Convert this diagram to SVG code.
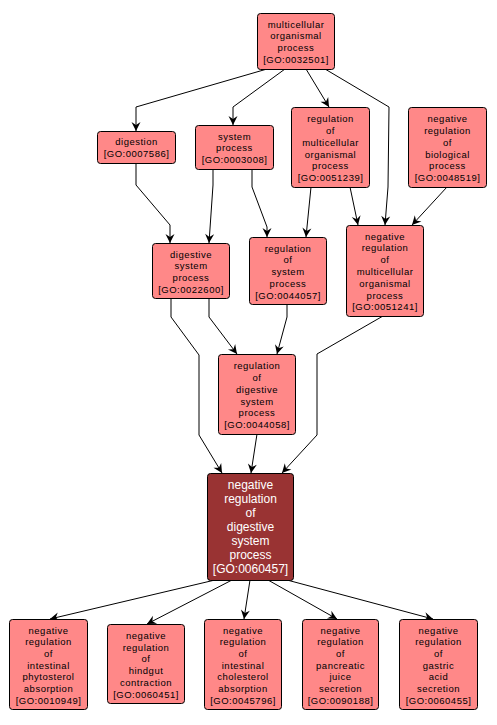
<svg xmlns="http://www.w3.org/2000/svg" width="497" height="725" viewBox="0 0 497 725">
<defs>
<marker id="arr" markerUnits="userSpaceOnUse" markerWidth="12" markerHeight="12" viewBox="-10 -6 12 12" refX="0" refY="0" orient="auto">
<path d="M0,0 L-9,-4.5 L-6,0 L-9,4.5 Z" fill="#000"/>
</marker>
</defs>
<style>
rect.n{fill:#ff8888;stroke:#000;stroke-width:1}
rect.m{fill:#993333;stroke:#000;stroke-width:1}
text{font-family:"Liberation Sans",Arial,sans-serif;text-anchor:middle}
text.s{font-size:9.5px;letter-spacing:0.5px;fill:#000}
text.b{font-size:12px;fill:#fff}
#edges path{fill:none;stroke:#000;stroke-width:1;marker-end:url(#arr)}
</style>
<rect width="497" height="725" fill="#fff"/>
<g id="edges">
<path d="M267,69 L136,107 L136,131"/>
<path d="M285,69 L233,107 L233,125"/>
<path d="M306,69 L329,107"/>
<path d="M325,69 L389,107 L388,187 L385,225"/>
<path d="M447,187 L412,225"/>
<path d="M350,187 L358,225"/>
<path d="M311,187 L306,237"/>
<path d="M136,163 L136,185 L170,225 L170,243"/>
<path d="M213,169 L213,185 L209,243"/>
<path d="M252,169 L252,187 L267,227 L267,237"/>
<path d="M209,298 L209,317 L237,354"/>
<path d="M287,304 L287,317 L277,354"/>
<path d="M171,298 L171,317 L199,355 L199,435 L222,473"/>
<path d="M383,316 L317,354 L317,435 L282,473"/>
<path d="M257,434 L251,473"/>
<path d="M215,580 L50,619"/>
<path d="M232,580 L147,624"/>
<path d="M250,580 L244,619"/>
<path d="M268,580 L337,619"/>
<path d="M287,580 L433,619"/>
</g>
<g id="GO_0032501">
<rect class="n" x="257.5" y="13.5" width="77" height="56" rx="3"/>
<text class="s" x="296" y="27.5"><tspan x="296">multicellular</tspan><tspan x="296" dy="11.9">organismal</tspan><tspan x="296" dy="11.9">process</tspan><tspan x="296" dy="11.9">[GO:0032501]</tspan></text>
</g>
<g id="GO_0007586">
<rect class="n" x="97.5" y="131.5" width="78" height="32" rx="3"/>
<text class="s" x="136.5" y="145.2"><tspan x="136.5">digestion</tspan><tspan x="136.5" dy="11.8">[GO:0007586]</tspan></text>
</g>
<g id="GO_0003008">
<rect class="n" x="195.5" y="125.5" width="78" height="44" rx="3"/>
<text class="s" x="234.5" y="139.5"><tspan x="234.5">system</tspan><tspan x="234.5" dy="11.8">process</tspan><tspan x="234.5" dy="11.8">[GO:0003008]</tspan></text>
</g>
<g id="GO_0051239">
<rect class="n" x="291.5" y="107.5" width="78" height="80" rx="3"/>
<text class="s" x="330.5" y="122.2"><tspan x="330.5">regulation</tspan><tspan x="330.5" dy="11.8">of</tspan><tspan x="330.5" dy="11.8">multicellular</tspan><tspan x="330.5" dy="11.8">organismal</tspan><tspan x="330.5" dy="11.8">process</tspan><tspan x="330.5" dy="11.8">[GO:0051239]</tspan></text>
</g>
<g id="GO_0048519">
<rect class="n" x="408.5" y="107.5" width="78" height="80" rx="3"/>
<text class="s" x="447.5" y="122.2"><tspan x="447.5">negative</tspan><tspan x="447.5" dy="11.8">regulation</tspan><tspan x="447.5" dy="11.8">of</tspan><tspan x="447.5" dy="11.8">biological</tspan><tspan x="447.5" dy="11.8">process</tspan><tspan x="447.5" dy="11.8">[GO:0048519]</tspan></text>
</g>
<g id="GO_0022600">
<rect class="n" x="152.5" y="243.5" width="77" height="55" rx="3"/>
<text class="s" x="191" y="257.5"><tspan x="191">digestive</tspan><tspan x="191" dy="11.8">system</tspan><tspan x="191" dy="11.8">process</tspan><tspan x="191" dy="11.8">[GO:0022600]</tspan></text>
</g>
<g id="GO_0044057">
<rect class="n" x="249.5" y="237.5" width="77" height="67" rx="3"/>
<text class="s" x="288" y="251.5"><tspan x="288">regulation</tspan><tspan x="288" dy="11.8">of</tspan><tspan x="288" dy="11.8">system</tspan><tspan x="288" dy="11.8">process</tspan><tspan x="288" dy="11.8">[GO:0044057]</tspan></text>
</g>
<g id="GO_0051241">
<rect class="n" x="346.5" y="225.5" width="77" height="91" rx="3"/>
<text class="s" x="385" y="239.5"><tspan x="385">negative</tspan><tspan x="385" dy="11.8">regulation</tspan><tspan x="385" dy="11.8">of</tspan><tspan x="385" dy="11.8">multicellular</tspan><tspan x="385" dy="11.8">organismal</tspan><tspan x="385" dy="11.8">process</tspan><tspan x="385" dy="11.8">[GO:0051241]</tspan></text>
</g>
<g id="GO_0044058">
<rect class="n" x="218.5" y="354.5" width="77" height="80" rx="3"/>
<text class="s" x="257" y="369.2"><tspan x="257">regulation</tspan><tspan x="257" dy="11.8">of</tspan><tspan x="257" dy="11.8">digestive</tspan><tspan x="257" dy="11.8">system</tspan><tspan x="257" dy="11.8">process</tspan><tspan x="257" dy="11.8">[GO:0044058]</tspan></text>
</g>
<g id="GO_0060457">
<rect class="m" x="207.5" y="473.5" width="86" height="107" rx="3"/>
<text class="b" x="250.5" y="489.3"><tspan x="250.5">negative</tspan><tspan x="250.5" dy="14">regulation</tspan><tspan x="250.5" dy="14">of</tspan><tspan x="250.5" dy="14">digestive</tspan><tspan x="250.5" dy="14">system</tspan><tspan x="250.5" dy="14">process</tspan><tspan x="250.5" dy="14">[GO:0060457]</tspan></text>
</g>
<g id="GO_0010949">
<rect class="n" x="9.5" y="619.5" width="78" height="90" rx="3"/>
<text class="s" x="48.5" y="633.5"><tspan x="48.5">negative</tspan><tspan x="48.5" dy="11.7">regulation</tspan><tspan x="48.5" dy="11.7">of</tspan><tspan x="48.5" dy="11.7">intestinal</tspan><tspan x="48.5" dy="11.7">phytosterol</tspan><tspan x="48.5" dy="11.7">absorption</tspan><tspan x="48.5" dy="11.7">[GO:0010949]</tspan></text>
</g>
<g id="GO_0060451">
<rect class="n" x="107.5" y="624.5" width="77" height="79" rx="3"/>
<text class="s" x="146" y="639"><tspan x="146">negative</tspan><tspan x="146" dy="11.7">regulation</tspan><tspan x="146" dy="11.7">of</tspan><tspan x="146" dy="11.7">hindgut</tspan><tspan x="146" dy="11.7">contraction</tspan><tspan x="146" dy="11.7">[GO:0060451]</tspan></text>
</g>
<g id="GO_0045796">
<rect class="n" x="204.5" y="619.5" width="77" height="90" rx="3"/>
<text class="s" x="243" y="633.5"><tspan x="243">negative</tspan><tspan x="243" dy="11.7">regulation</tspan><tspan x="243" dy="11.7">of</tspan><tspan x="243" dy="11.7">intestinal</tspan><tspan x="243" dy="11.7">cholesterol</tspan><tspan x="243" dy="11.7">absorption</tspan><tspan x="243" dy="11.7">[GO:0045796]</tspan></text>
</g>
<g id="GO_0090188">
<rect class="n" x="302.5" y="619.5" width="76" height="90" rx="3"/>
<text class="s" x="340.5" y="633.5"><tspan x="340.5">negative</tspan><tspan x="340.5" dy="11.7">regulation</tspan><tspan x="340.5" dy="11.7">of</tspan><tspan x="340.5" dy="11.7">pancreatic</tspan><tspan x="340.5" dy="11.7">juice</tspan><tspan x="340.5" dy="11.7">secretion</tspan><tspan x="340.5" dy="11.7">[GO:0090188]</tspan></text>
</g>
<g id="GO_0060455">
<rect class="n" x="399.5" y="619.5" width="78" height="90" rx="3"/>
<text class="s" x="438.5" y="633.5"><tspan x="438.5">negative</tspan><tspan x="438.5" dy="11.7">regulation</tspan><tspan x="438.5" dy="11.7">of</tspan><tspan x="438.5" dy="11.7">gastric</tspan><tspan x="438.5" dy="11.7">acid</tspan><tspan x="438.5" dy="11.7">secretion</tspan><tspan x="438.5" dy="11.7">[GO:0060455]</tspan></text>
</g>
</svg>
